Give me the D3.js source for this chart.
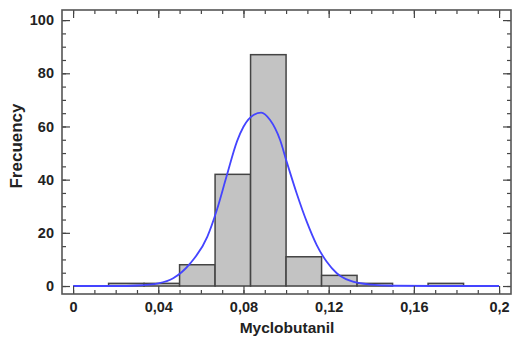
<!DOCTYPE html>
<html>
<head>
<meta charset="utf-8">
<script src="https://cdn.jsdelivr.net/npm/d3@7"></script>
<style>
  body { margin: 0; background: #fff; }
  svg text { font-family: "Liberation Sans", Arial, sans-serif; font-weight: bold; fill: #222; }
</style>
</head>
<body>
<div id="chart"></div>
<script>
// histogram bins (lower edge, upper edge) and counts
const binStarts = [0.01667, 0.03333, 0.05, 0.06667, 0.08333, 0.1, 0.11667, 0.13333, 0.15, 0.16667]
const binEnds   = [0.03333, 0.05, 0.06667, 0.08333, 0.1, 0.11667, 0.13333, 0.15, 0.16667, 0.18333]
const counts    = [1, 1, 8, 42, 87, 11, 4, 1, 0, 1]

// fitted curve
const curveX = [0, 0.02, 0.03, 0.04, 0.047, 0.055, 0.063, 0.0675, 0.072, 0.077, 0.080, 0.0847, 0.0883, 0.0925, 0.0972, 0.1003, 0.105, 0.1097, 0.1144, 0.1191, 0.1238, 0.13, 0.14, 0.15, 0.17, 0.2]
const curveY = [0, 0, 0.2, 1, 2.9, 8.5, 18.5, 28.6, 41.1, 54.5, 59.9, 64.3, 65.2, 62.4, 54.9, 46.7, 34.8, 24.2, 15.4, 9.1, 4.8, 2, 0.5, 0.1, 0, 0]

const xTicks = [0, 0.04, 0.08, 0.12, 0.16, 0.2]
const yTicks = [0, 20, 40, 60, 80, 100]

const W = 513, H = 340
const mLeft = 62, mRight = 511, mTop = 10, mBottom = 294

const svg = d3.select("#chart").append("svg")
  .attr("width", W).attr("height", H)

const x = d3.scaleLinear().domain([-0.0052, 0.2056]).range([mLeft, mRight])
const y = d3.scaleLinear().domain([-3.0, 103.8]).range([mBottom, mTop])

const loc = d3.formatLocale({decimal: ",", thousands: ".", grouping: [3], currency: ["", ""]})
const fmt = d => d === 0 ? "0" : loc.format("~g")(d)

// bars
svg.selectAll("rect.bar")
  .data(counts.map((c, i) => ({c, a: binStarts[i], b: binEnds[i]})).filter(d => d.c > 0))
  .join("rect")
  .attr("class", "bar")
  .attr("x", d => x(d.a))
  .attr("width", d => x(d.b) - x(d.a))
  .attr("y", d => y(d.c))
  .attr("height", d => y(0) - y(d.c))
  .attr("fill", "#c3c3c3")
  .attr("stroke", "#444")
  .attr("stroke-width", 1.5)

// curve
const line = d3.line().x((d, i) => x(curveX[i])).y(d => y(d)).curve(d3.curveMonotoneX)
svg.append("path")
  .attr("d", line(curveY))
  .attr("fill", "none")
  .attr("stroke", "#4444ff")
  .attr("stroke-width", 1.8)

// minor tick values
const xMinor = d3.range(0, 0.2001, 0.01)
const yMinor = d3.range(0, 100.1, 5)

function axisTicks(axisFn, scale, pos, major, minor, size, label) {
  const g1 = svg.append("g").attr("transform", pos)
    .call(axisFn(scale).tickValues(minor).tickSize(-4).tickFormat(""))
  const g2 = svg.append("g").attr("transform", pos)
    .call(axisFn(scale).tickValues(major).tickSize(-size).tickPadding(8).tickFormat(label ? fmt : ""))
  ;[g1, g2].forEach(g => {
    g.select(".domain").remove()
    g.selectAll("line").attr("stroke", "#444").attr("stroke-width", 1.2)
    g.selectAll("text").attr("font-size", 14.5).attr("font-family", null).attr("fill", "#222")
  })
  return g2
}

axisTicks(d3.axisBottom, x, `translate(0,${mBottom})`, xTicks, xMinor, 8, true)
axisTicks(d3.axisTop, x, `translate(0,${mTop})`, xTicks, xMinor, 8, false)
axisTicks(d3.axisLeft, y, `translate(${mLeft},0)`, yTicks, yMinor, 8, true)
axisTicks(d3.axisRight, y, `translate(${mRight},0)`, yTicks, yMinor, 8, false)

// frame
svg.append("rect")
  .attr("x", mLeft).attr("y", mTop)
  .attr("width", mRight - mLeft).attr("height", mBottom - mTop)
  .attr("fill", "none")
  .attr("stroke", "#555")
  .attr("stroke-width", 1.6)

// titles
svg.append("text")
  .attr("x", 287).attr("y", 333)
  .attr("text-anchor", "middle")
  .attr("font-size", 15.5)
  .text("Myclobutanil")

svg.append("text")
  .attr("transform", "translate(22,146) rotate(-90)")
  .attr("text-anchor", "middle")
  .attr("font-size", 17)
  .text("Frecuency")
</script>
</body>
</html>
